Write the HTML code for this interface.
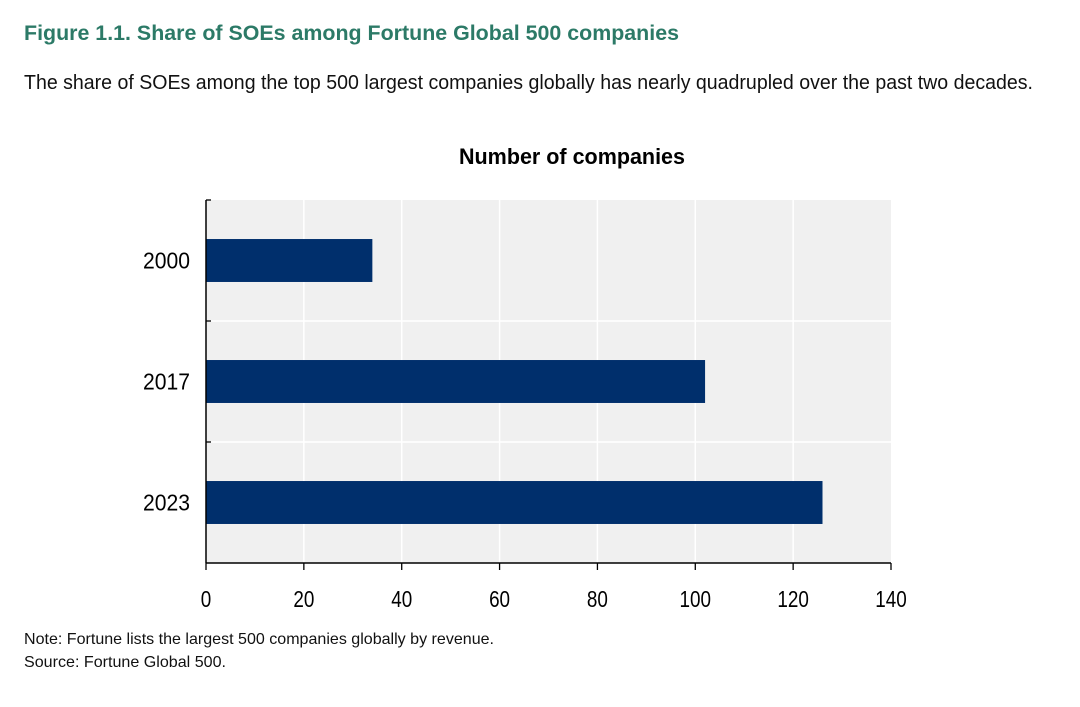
<!DOCTYPE html>
<html><head><meta charset="utf-8"><style>
html,body{margin:0;padding:0;background:#fff;width:1080px;height:707px;overflow:hidden}
svg{display:block}
text{font-family:"Liberation Sans",Arial,sans-serif}
</style></head><body>
<svg width="1080" height="707">
<text x="24" y="40" font-size="21" font-weight="bold" fill="#2c7a67" textLength="655" lengthAdjust="spacingAndGlyphs">Figure 1.1. Share of SOEs among Fortune Global 500 companies</text>
<text x="24" y="89" font-size="20" fill="#111" textLength="1009" lengthAdjust="spacingAndGlyphs">The share of SOEs among the top 500 largest companies globally has nearly quadrupled over the past two decades.</text>
<text x="572" y="164" font-size="22" font-weight="bold" text-anchor="middle" fill="#000" textLength="226" lengthAdjust="spacingAndGlyphs">Number of companies</text>
<g id="plot"></g>
<text x="24" y="644" font-size="16" fill="#111" textLength="470" lengthAdjust="spacingAndGlyphs">Note: Fortune lists the largest 500 companies globally by revenue.</text>
<text x="24" y="667" font-size="16" fill="#111" textLength="202" lengthAdjust="spacingAndGlyphs">Source: Fortune Global 500.</text>
</svg>
<script>
const categories = ["2000","2017","2023"];
const values = [34, 102, 126];
const xTicks = [0,20,40,60,80,100,120,140];

const NS="http://www.w3.org/2000/svg";
const g=document.getElementById('plot');
const X0=206,X1=891,Y0=200,Y1=563,XMAX=140;
const xs=v=>X0+(v/XMAX)*(X1-X0);
const band=(Y1-Y0)/categories.length;
function el(t,a){const e=document.createElementNS(NS,t);for(const k in a)e.setAttribute(k,a[k]);g.appendChild(e);return e;}
let bg=el('rect',{x:X0,y:Y0,width:X1-X0,height:Y1-Y0,fill:'#f0f0f0'});


xTicks.forEach(t=>{
  if(t>0&&t<XMAX){const l=el('line',{x1:xs(t),x2:xs(t),y1:Y0,y2:Y1,stroke:'#fff','stroke-width':1.5});
  
  }
  const tk=el('line',{x1:xs(t),x2:xs(t),y1:Y1,y2:Y1+7,stroke:'#000','stroke-width':1.3});
  
  
  const s=String(t);
  const tx=el('text',{x:xs(t),y:Y1+44,'font-size':23,'text-anchor':'middle',fill:'#000',textLength:s.length*10.5,lengthAdjust:'spacingAndGlyphs'});
  tx.textContent=s;
  
  
});
for(let i=0;i<=categories.length;i++){
  const y=Y0+i*band;
  if(i>0&&i<categories.length){const l=el('line',{x1:X0,x2:X1,y1:y,y2:y,stroke:'#fff','stroke-width':1.5});
  
  }
  if(i<categories.length){const tk=el('line',{x1:X0,x2:X0+5,y1:y,y2:y,stroke:'#000','stroke-width':1.3});
  
  }
}
categories.forEach((c,i)=>{
  const yc=Y0+band*(i+0.5);
  const bh=band*0.355;
  const r=el('rect',{x:X0,y:yc-bh/2,width:xs(values[i])-X0,height:bh,fill:'#002f6c'});
  
  
  const tx=el('text',{x:X0-16,y:yc+8,'font-size':23,'text-anchor':'end',fill:'#000',textLength:47,lengthAdjust:'spacingAndGlyphs'});
  tx.textContent=c;
  
  
});
const ax=el('line',{x1:X0,x2:X0,y1:Y0,y2:Y1,stroke:'#000','stroke-width':1.5});


const bx=el('line',{x1:X0,x2:X1,y1:Y1,y2:Y1,stroke:'#000','stroke-width':1.5});


</script>
</body></html>
